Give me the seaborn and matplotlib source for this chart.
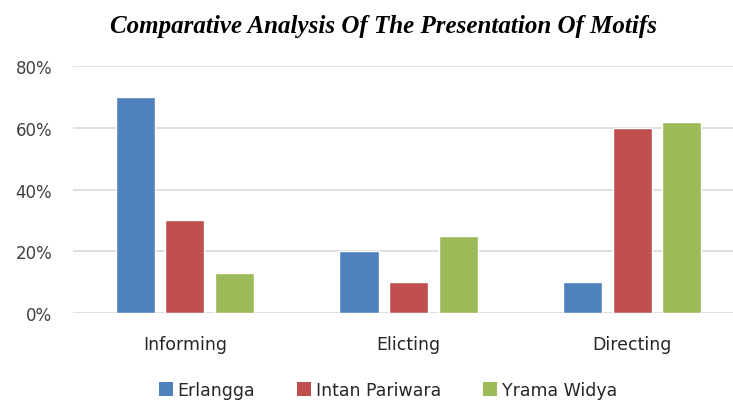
import matplotlib
matplotlib.use("Agg")
import matplotlib.pyplot as plt
import seaborn as sns
import pandas as pd
from matplotlib.patches import Patch

categories = ["Informing", "Elicting", "Directing"]
series = ["Erlangga", "Intan Pariwara", "Yrama Widya"]
erlangga = [70, 20, 10]
intan = [30, 10, 60]
yrama = [13, 25, 62]
yticks = [0, 20, 40, 60, 80]
ytick_labels = ["0%", "20%", "40%", "60%", "80%"]
colors = ["#4F81BD", "#C0504D", "#9BBB59"]

rows = []
for name, vals in zip(series, [erlangga, intan, yrama]):
    for c, v in zip(categories, vals):
        rows.append({"cat": c, "series": name, "val": v})
df = pd.DataFrame(rows)

sns.set_style("white")
plt.rcParams["font.family"] = ["DejaVu Sans"]

fig = plt.figure(figsize=(7.33, 4.02), dpi=100)
ax = fig.add_axes([73 / 733, (402 - 314) / 402, (733 - 73) / 733, (314 - 67) / 402])

sns.barplot(data=df, x="cat", y="val", hue="series", order=categories,
            hue_order=series, palette=colors, width=0.665, gap=0.21,
            saturation=1, ax=ax, legend=False, zorder=3)

ax.set_ylim(0, 80)
ax.set_xlim(-0.5, 2.5 - 11 / 223.5)
ax.set_yticks(yticks)
ax.set_yticklabels(ytick_labels, fontsize=12, color="#404040")
ax.yaxis.grid(True, color="#D9D9D9", linewidth=1.2, zorder=0)
ax.set_axisbelow(True)
for s in ax.spines.values():
    s.set_visible(False)
ax.tick_params(axis="y", length=0, pad=15)
ax.tick_params(axis="x", length=0, pad=16, labelsize=12.5, labelcolor="#262626")
ax.set_xlabel("")
ax.set_ylabel("")

fig.text(383 / 733, 1 - 27 / 402, "Comparative Analysis Of The Presentation Of Motifs",
         ha="center", va="center", fontsize=18, fontweight="bold", fontstyle="italic",
         family="Liberation Serif", color="black")

handles = [Patch(facecolor=c, edgecolor="none") for c in colors]
fig.legend(handles, series, loc="center", bbox_to_anchor=(388 / 733, 1 - 391 / 402),
           ncol=3, frameon=False, fontsize=12.5, handlelength=0.8, handleheight=0.8,
           handletextpad=0.3, columnspacing=2.4, labelcolor="#262626")

fig.savefig("out.png", dpi=100)
